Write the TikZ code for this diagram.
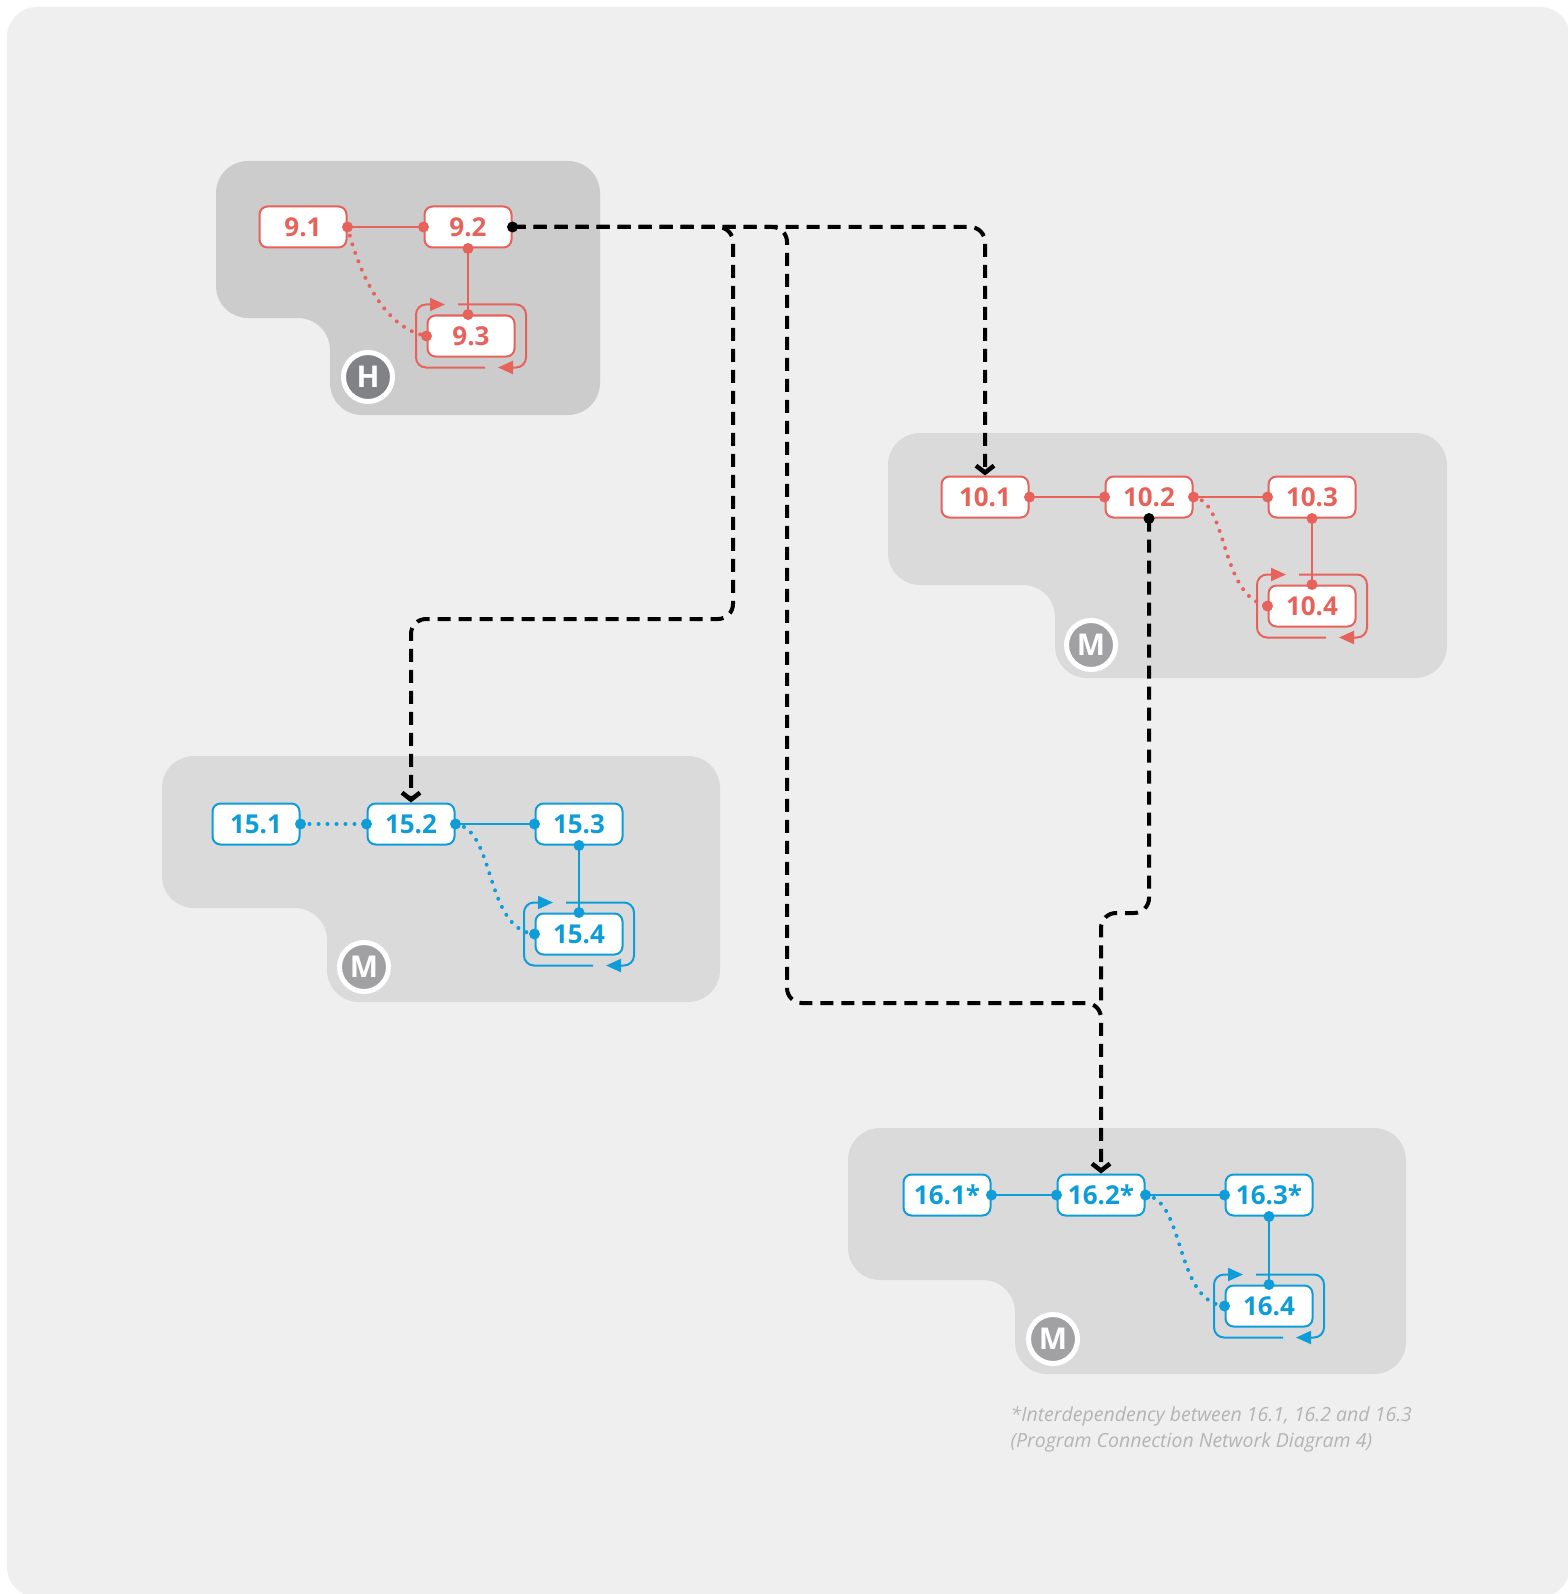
\documentclass[tikz,border=0pt]{standalone}
\usepackage{fontspec}
\setmainfont{Open Sans}
\usetikzlibrary{arrows.meta}

\definecolor{taskred}{RGB}{232,98,92}
\definecolor{taskblue}{RGB}{14,157,217}
\definecolor{pagegrey}{RGB}{239,239,239}
\definecolor{highgrey}{RGB}{204,204,204}
\definecolor{medgrey}{RGB}{219,218,219}
\definecolor{badgeh}{RGB}{128,130,133}
\definecolor{badgem}{RGB}{161,161,164}
\definecolor{notegrey}{RGB}{180,180,180}

\begin{document}
\begin{tikzpicture}[x = 1pt, y = -1pt,
  task/.style = {draw, fill = white, line width = 2pt, rounded corners = 8pt, minimum width = 87pt, minimum height = 41pt, inner sep = 0pt, font = \fontsize{26}{30}\selectfont\bfseries},
  redtask/.style = {task, draw = taskred, text = taskred},
  bluetask/.style = {task, draw = taskblue, text = taskblue},
  badge/.style = {circle, draw = white, line width = 5pt, minimum size = 49pt, inner sep = 0pt, text = white, font = \fontsize{30}{36}\selectfont\bfseries},
  panel/.style = {rounded corners = 32pt},
  link/.style = {line width = 2pt},
  dotlink/.style = {line width = 4pt, line cap = round, dash pattern = on 0pt off 9pt},
  turnback/.style = {line width = 2pt, rounded corners = 10pt, -{Triangle[length = 15pt, width = 13pt]}},
  depend/.style = {line width = 4pt, dash pattern = on 13pt off 8pt, rounded corners = 15pt},
  depend end/.style = {-{Straight Barb[length = 7pt, width = 18pt, line width = 4.5pt]}}]
\fill[white] (0, 0) rectangle (1567, 1594);
\useasboundingbox (0, 0) rectangle (1567, 1594);
\fill[pagegrey, rounded corners = 30pt] (7, 7) rectangle (1570, 1597);

% panels
\fill[highgrey, panel] (216, 161) -- (600, 161) -- (600, 415) -- (330, 415) -- (330, 318) -- (216, 318) -- cycle;
\fill[medgrey, panel] (888, 433) -- (1447, 433) -- (1447, 678) -- (1055, 678) -- (1055, 585) -- (888, 585) -- cycle;
\fill[medgrey, panel] (162, 756) -- (720, 756) -- (720, 1002) -- (327, 1002) -- (327, 908) -- (162, 908) -- cycle;
\fill[medgrey, panel] (848, 1128) -- (1406, 1128) -- (1406, 1374) -- (1015, 1374) -- (1015, 1280) -- (848, 1280) -- cycle;

\node (bh) at (368, 377) [badge, fill = badgeh] {H};
\node (bm10) at (1091, 645) [badge, fill = badgem] {M};
\node (bm15) at (364, 967) [badge, fill = badgem] {M};
\node (bm16) at (1053, 1339) [badge, fill = badgem] {M};

% tasks
\node (n91) at (303, 227) [redtask] {9.1};
\node (n92) at (468, 227) [redtask] {9.2};
\node (n93) at (471, 336) [redtask] {9.3};
\node (n101) at (985, 497) [redtask] {10.1};
\node (n102) at (1149, 497) [redtask] {10.2};
\node (n103) at (1312, 497) [redtask] {10.3};
\node (n104) at (1312, 606) [redtask] {10.4};
\node (n151) at (256, 824) [bluetask] {15.1};
\node (n152) at (411, 824) [bluetask] {15.2};
\node (n153) at (579, 824) [bluetask] {15.3};
\node (n154) at (579, 934) [bluetask] {15.4};
\node (n161) at (947, 1195) [bluetask] {16.1*};
\node (n162) at (1101, 1195) [bluetask] {16.2*};
\node (n163) at (1269, 1195) [bluetask] {16.3*};
\node (n164) at (1269, 1306) [bluetask] {16.4};

% links inside the groups
\draw[link, taskred] (n91.east) -- (n92.west);
\draw[link, taskred] (n92.south) -- (n92.south |- n93.north);
\draw[dotlink, taskred] (n91.east) .. controls +(10, 40) and +(-45, -8) .. (n93.west);
\draw[link, taskred] (n101.east) -- (n102.west);
\draw[link, taskred] (n102.east) -- (n103.west);
\draw[link, taskred] (n103.south) -- (n104.north);
\draw[dotlink, taskred] (n102.east) .. controls +(35, 5) and +(-48, -10) .. (n104.west);
\draw[dotlink, taskblue] (n151.east) -- (n152.west);
\draw[link, taskblue] (n152.east) -- (n153.west);
\draw[link, taskblue] (n153.south) -- (n154.north);
\draw[dotlink, taskblue] (n152.east) .. controls +(40, 5) and +(-50, -5) .. (n154.west);
\draw[link, taskblue] (n161.east) -- (n162.west);
\draw[link, taskblue] (n162.east) -- (n163.west);
\draw[link, taskblue] (n163.south) -- (n164.north);
\draw[dotlink, taskblue] (n162.east) .. controls +(40, 5) and +(-50, -5) .. (n164.west);

% turn-back arrows
\draw[turnback, taskred] ([shift = {(-13, -31.5)}]n93.center) -- ++(68, 0) -- ++(0, 63) -- ++(-28, 0);
\draw[turnback, taskred] ([shift = {(14, 31.5)}]n93.center) -- ++(-69, 0) -- ++(0, -63) -- ++(29, 0);
\draw[turnback, taskred] ([shift = {(-13, -31.5)}]n104.center) -- ++(68, 0) -- ++(0, 63) -- ++(-28, 0);
\draw[turnback, taskred] ([shift = {(14, 31.5)}]n104.center) -- ++(-69, 0) -- ++(0, -63) -- ++(29, 0);
\draw[turnback, taskblue] ([shift = {(-13, -31.5)}]n154.center) -- ++(68, 0) -- ++(0, 63) -- ++(-28, 0);
\draw[turnback, taskblue] ([shift = {(14, 31.5)}]n154.center) -- ++(-69, 0) -- ++(0, -63) -- ++(29, 0);
\draw[turnback, taskblue] ([shift = {(-13, -31.5)}]n164.center) -- ++(68, 0) -- ++(0, 63) -- ++(-28, 0);
\draw[turnback, taskblue] ([shift = {(14, 31.5)}]n164.center) -- ++(-69, 0) -- ++(0, -63) -- ++(29, 0);

\fill[taskred] (n91.east) circle (5.5pt) (n92.west) circle (5.5pt) (n92.south) circle (5.5pt) (n92.south |- n93.north) circle (5.5pt) (n93.west) circle (5.5pt);
\fill[taskred] (n101.east) circle (5.5pt) (n102.west) circle (5.5pt) (n102.east) circle (5.5pt) (n103.west) circle (5.5pt) (n103.south) circle (5.5pt) (n104.north) circle (5.5pt) (n104.west) circle (5.5pt);
\fill[taskblue] (n151.east) circle (5.5pt) (n152.west) circle (5.5pt) (n152.east) circle (5.5pt) (n153.west) circle (5.5pt) (n153.south) circle (5.5pt) (n154.north) circle (5.5pt) (n154.west) circle (5.5pt);
\fill[taskblue] (n161.east) circle (5.5pt) (n162.west) circle (5.5pt) (n162.east) circle (5.5pt) (n163.west) circle (5.5pt) (n163.south) circle (5.5pt) (n164.north) circle (5.5pt) (n164.west) circle (5.5pt);

% dependencies between the groups
\coordinate (bend) at (1101, 913);
\coordinate (merge) at (1101, 1003);
\draw[depend, depend end] (n92.east) -| (n101.north);
\draw[depend, depend end] (n92.east) -| (733, 619) -| (n152.north);
\draw[depend, depend end] (n92.east) -| (787, 1003) -- (merge) -- (n162.north);
\draw[depend] (n102.south) |- (bend) -- (merge);
\fill (n92.east) circle (5.5pt) (n102.south) circle (5.5pt);

\node (note) at (1007, 1403) [anchor = north west, align = left, text = notegrey, font = \fontsize{19.5}{26}\selectfont\itshape] {*Interdependency between 16.1, 16.2 and 16.3\\(Program Connection Network Diagram 4)};
\end{tikzpicture}
\end{document}
